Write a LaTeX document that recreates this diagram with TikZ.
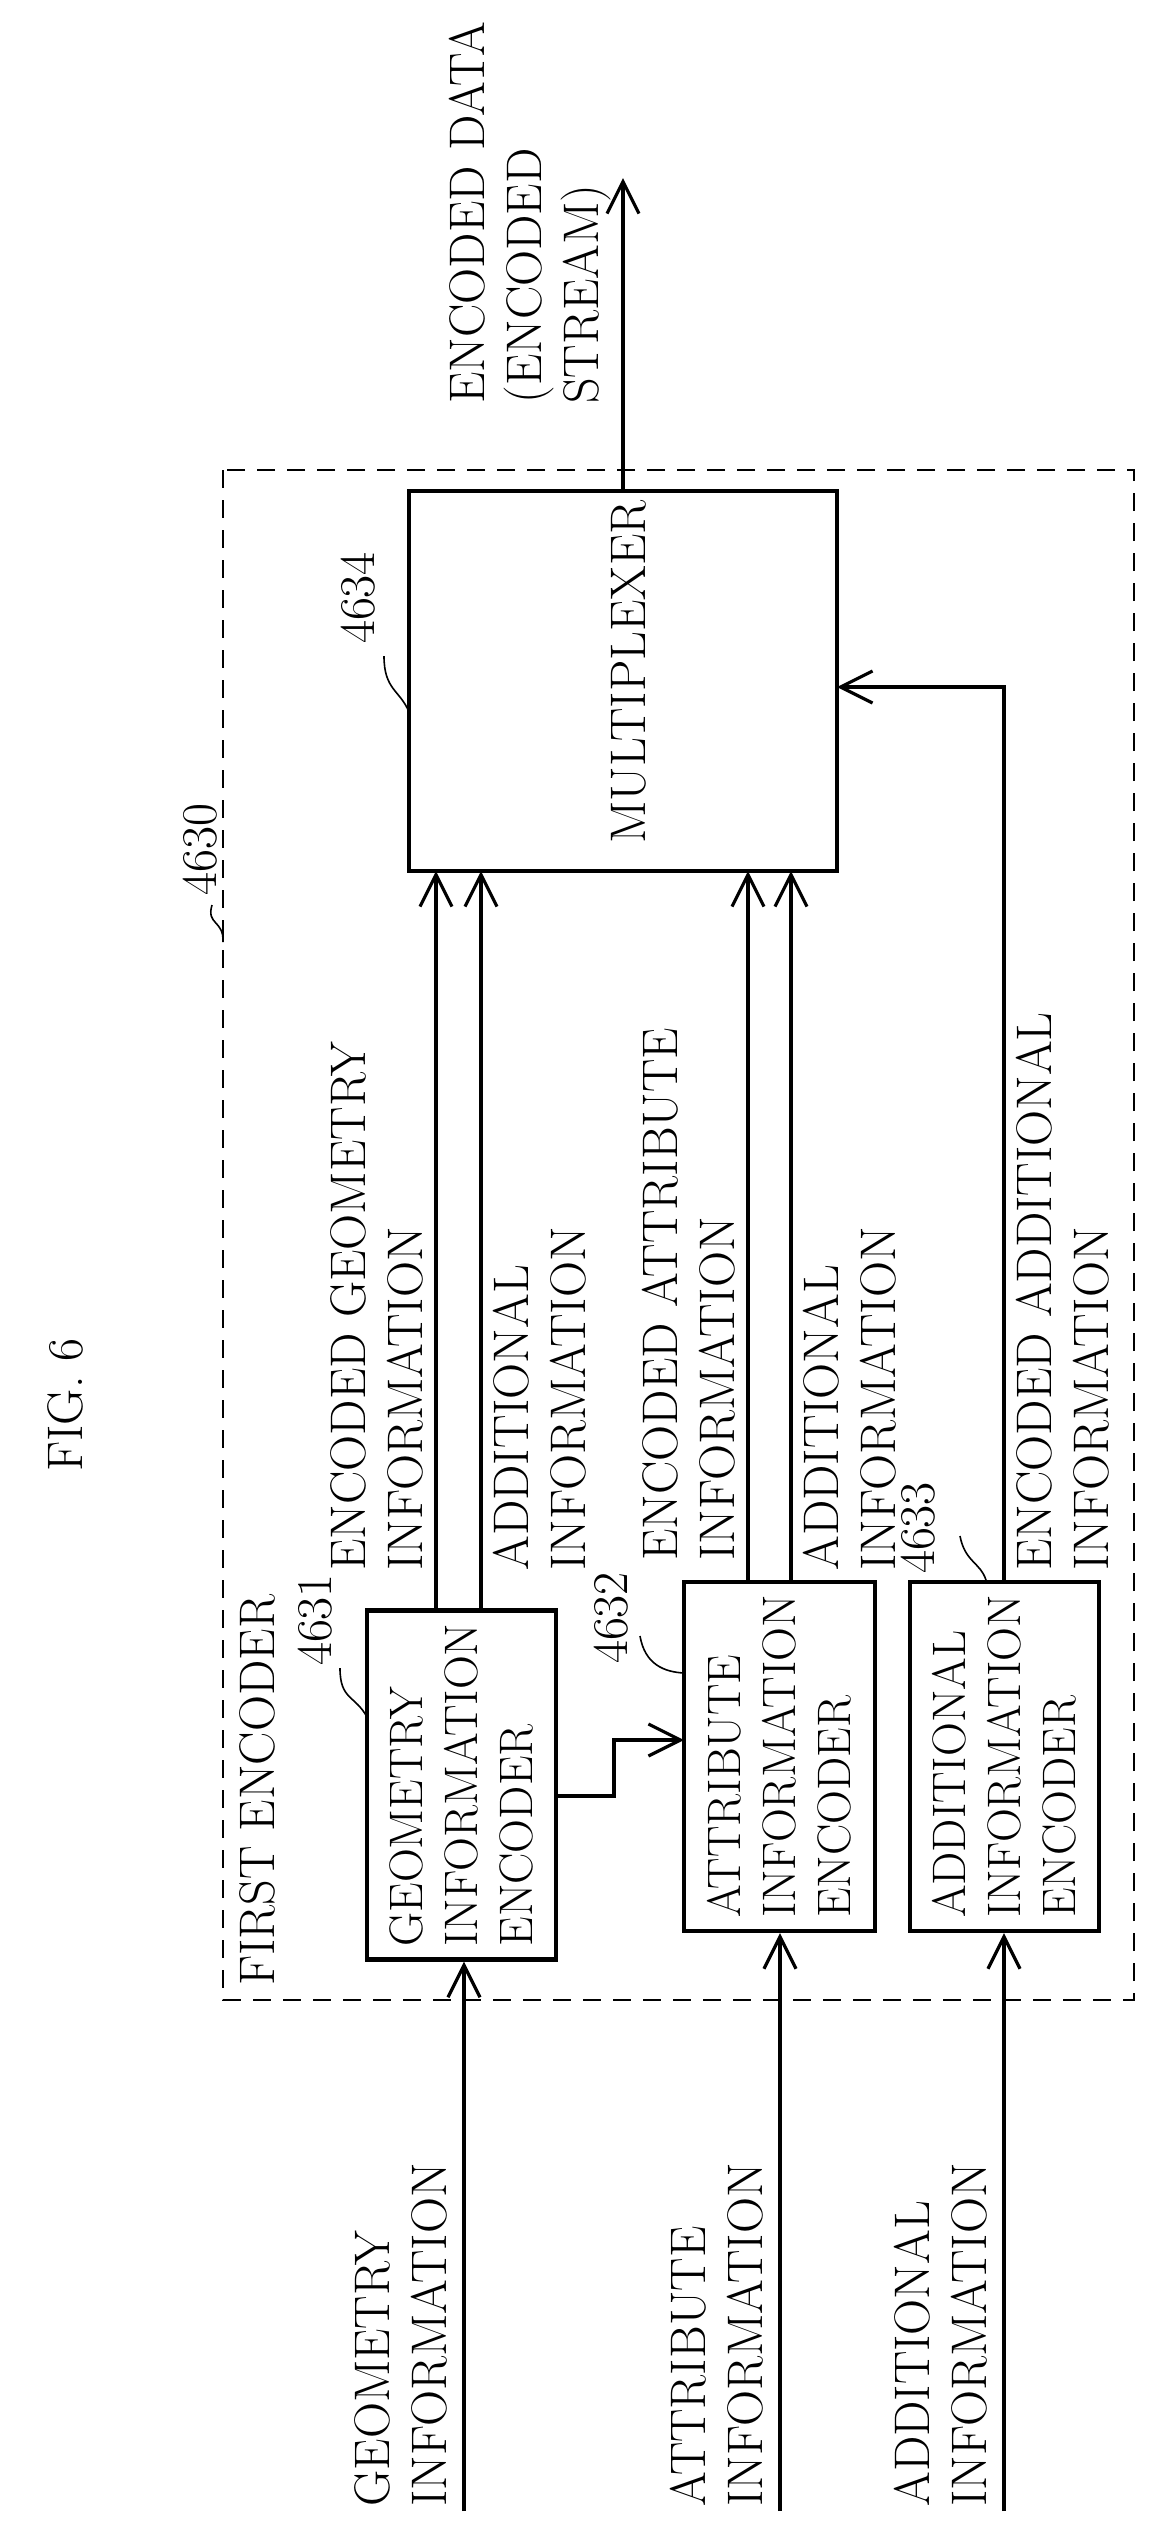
\documentclass[tikz,border=0pt]{standalone}
\usetikzlibrary{positioning,arrows.meta}
\tikzset{
	block/.style={draw, line width=2.2pt, align=left, rotate=90, inner sep=3pt, font=\fontsize{23.5}{27.5}\selectfont},
	sig/.style={line width=2.2pt, -{Straight Barb[length=16pt,width=16pt,line width=1.6pt]}},
	txt/.style={rotate=90, align=left, inner sep=2pt},
	lead/.style={line width=0.8pt},
}
\begin{document}
\begin{tikzpicture}[x=0.5pt,y=-0.5pt,font=\fontsize{25}{28.5}\selectfont]
	\useasboundingbox (0,0) rectangle (1152,2524);

	\draw[dashed, line width=0.9pt, dash pattern=on 9pt off 6pt] (223,470) rectangle (1134,2000);

	\node[txt] (fig) at (65,1405) {FIG. 6};
	\node[txt, anchor=south west] (first) at (280,1990) {FIRST ENCODER};
	\node[txt, anchor=south west] (n4630) at (222,900) {4630};
	\draw[lead] (212,905) .. controls (206,925) and (224,920) .. (223,942);

	\node[block, minimum width=174.5pt, minimum height=94.5pt] (geo) at (461.5,1785) {GEOMETRY\\INFORMATION\\ENCODER};
	\node[block, minimum width=174.5pt, minimum height=95.5pt] (attr) at (779.5,1756.5) {ATTRIBUTE\\INFORMATION\\ENCODER};
	\node[block, minimum width=174.5pt, minimum height=94.5pt] (add) at (1004.5,1756.5) {ADDITIONAL\\INFORMATION\\ENCODER};
	\node[draw, line width=2.2pt, minimum width=214pt, minimum height=190pt] (mux) at (623,681) {};
	\node[txt] (muxt) at (629,672) {MULTIPLEXER};

	% reference numerals
	\node[txt, anchor=south] (n4631) at (337,1620) {4631};
	\draw[lead] (340,1668) .. controls (340,1700) and (355,1695) .. (367,1717);
	\node[txt, anchor=south] (n4632) at (633,1618) {4632};
	\draw[lead] (640,1636) .. controls (645,1665) and (665,1672) .. (684,1673);
	\node[txt, anchor=south] (n4633) at (940,1528) {4633};
	\draw[lead] (960,1536) .. controls (965,1562) and (980,1562) .. (986,1580);
	\node[txt, anchor=south] (n4634) at (380,598) {4634};
	\draw[lead] (384,656) .. controls (384,690) and (400,690) .. (409,712);

	% inputs
	\coordinate (ginp) at (464,2511);
	\coordinate (ainp) at (780,2511);
	\coordinate (dinp) at (1004,2511);
	\draw[sig] (ginp) -- (ginp |- geo.west);
	\draw[sig] (ainp) -- (ainp |- attr.west);
	\draw[sig] (dinp) -- (dinp |- add.west);
	\node[txt, anchor=south west] (gin) at (452,2511) {GEOMETRY\\INFORMATION};
	\node[txt, anchor=south west] (ain) at (768,2511) {ATTRIBUTE\\INFORMATION};
	\node[txt, anchor=south west] (din) at (992,2511) {ADDITIONAL\\INFORMATION};

	% geometry to attribute
	\draw[sig] (556,1796) -- (614,1796) -- (614,1740) -- (684,1740);

	% into multiplexer
	\draw[sig] (436,1611) -- (436,871);
	\draw[sig] (481,1611) -- (481,871);
	\draw[sig] (748,1582) -- (748,871);
	\draw[sig] (791,1582) -- (791,871);
	\draw[sig] (1004,1582) -- (1004,687) -- (837,687);
	\draw[sig] (623,491) -- (623,178);

	\node[txt, anchor=south west] (egeo) at (428,1575) {ENCODED GEOMETRY\\INFORMATION};
	\node[txt, anchor=north west] (ageo) at (489,1575) {ADDITIONAL\\INFORMATION};
	\node[txt, anchor=south west] (eattr) at (740,1565) {ENCODED ATTRIBUTE\\INFORMATION};
	\node[txt, anchor=north west] (aattr) at (799,1575) {ADDITIONAL\\INFORMATION};
	\node[txt, anchor=north west] (eadd) at (1012,1575) {ENCODED ADDITIONAL\\INFORMATION};
	\node[txt, anchor=south west] (out) at (615,408) {ENCODED DATA\\(ENCODED\\STREAM)};
\end{tikzpicture}
\end{document}
